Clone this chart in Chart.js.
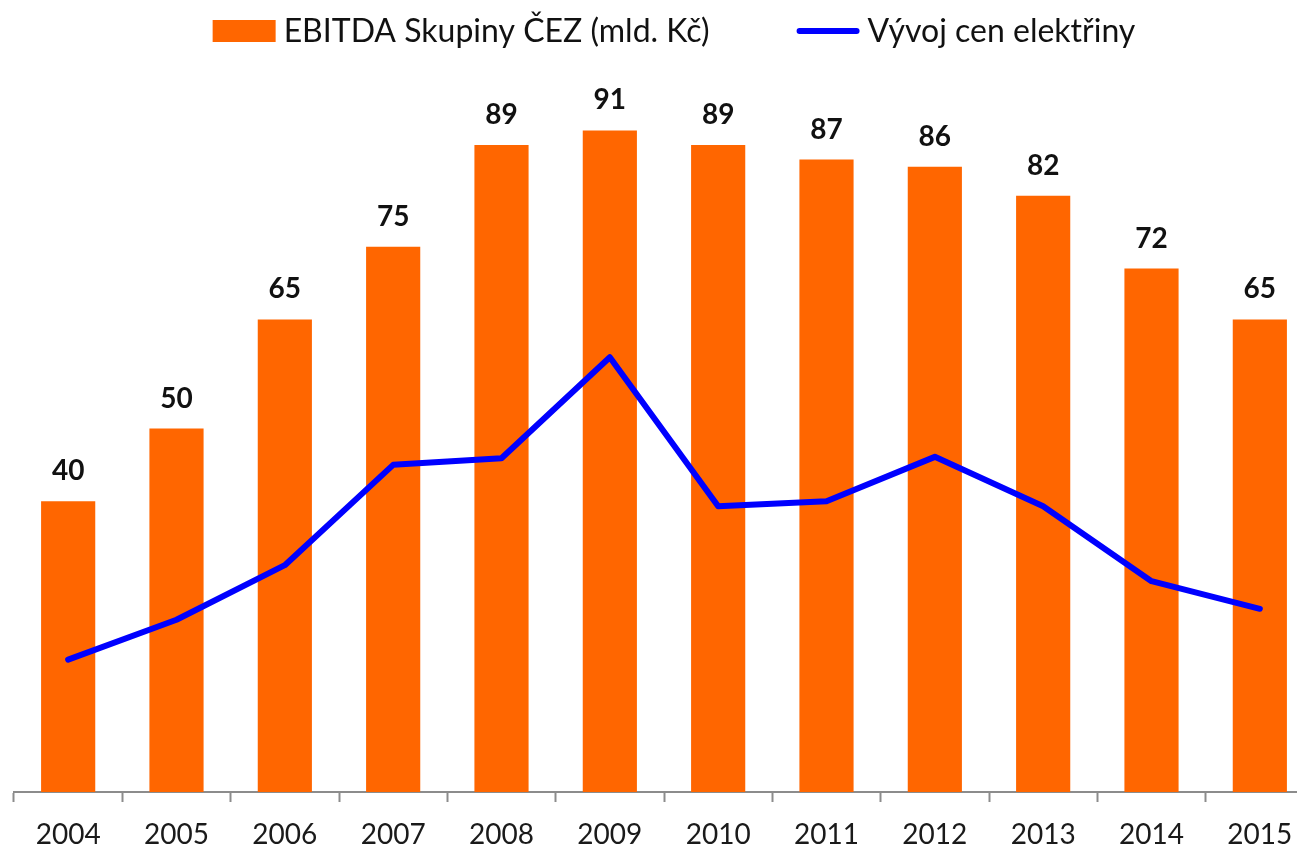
<!DOCTYPE html>
<html>
<head>
<meta charset="utf-8">
<title>EBITDA Skupiny ČEZ</title>
<script src="https://cdn.jsdelivr.net/npm/chart.js@4"></script>
<style>
  html, body { margin: 0; padding: 0; background: #fff; overflow: hidden; }
  #wrap { width: 1320px; height: 868px; position: relative; }
</style>
</head>
<body>
<div id="wrap"><canvas id="cezChart"></canvas></div>
<script>
const roky = ['2004', '2005', '2006', '2007', '2008', '2009', '2010', '2011', '2012', '2013', '2014', '2015']
const ebitda = [40, 50, 65, 75, 89, 91, 89, 87, 86, 82, 72, 65]
const cenyElektriny = [18.2, 23.7, 31.2, 45.0, 45.9, 59.8, 39.3, 40.0, 46.1, 39.3, 29.0, 25.2]

const oranzova = '#FF6600'
const modra = '#0000FF'
const pismo = 'Lato, "Open Sans", sans-serif'

// popisky hodnot nad sloupci
const hodnotyNadSloupci = {
  id: 'hodnotyNadSloupci',
  afterDatasetsDraw(chart) {
    const ctx = chart.ctx
    const meta = chart.getDatasetMeta(1)
    ctx.save()
    ctx.font = 'bold 28px ' + pismo
    ctx.fillStyle = '#111'
    ctx.textAlign = 'center'
    ctx.textBaseline = 'alphabetic'
    meta.data.forEach((bar, i) => {
      ctx.fillText(chart.data.datasets[1].data[i], bar.x, bar.y - 21)
    })
    ctx.restore()
  }
}

// legenda nahoře (vlastní, kvůli rozestupům)
const legendaNahore = {
  id: 'legendaNahore',
  afterDraw(chart) {
    const ctx = chart.ctx
    const sady = chart.data.datasets
    const sloupce = sady[1]
    const cara = sady[0]
    ctx.save()
    ctx.font = '32px ' + pismo
    ctx.textBaseline = 'middle'
    const w1 = ctx.measureText(sloupce.label).width
    const w2 = ctx.measureText(cara.label).width
    const celkem = 63 + 8 + w1 + 87 + 63 + 8 + w2
    let x = chart.width / 2 + 14 - celkem / 2
    const y = 31

    ctx.fillStyle = oranzova
    ctx.fillRect(x, y - 11, 63, 22)
    x += 63 + 8
    ctx.fillStyle = '#111'
    ctx.fillText(sloupce.label, x, y + 1)
    x += w1 + 87

    ctx.strokeStyle = modra
    ctx.lineWidth = 6
    ctx.lineCap = 'round'
    ctx.beginPath()
    ctx.moveTo(x + 3, y)
    ctx.lineTo(x + 60, y)
    ctx.stroke()
    x += 63 + 8
    ctx.fillText(cara.label, x, y + 1)
    ctx.restore()
  }
}

const ctx = document.getElementById('cezChart').getContext('2d')
let cezChart = new Chart(ctx, {
  data: {
    labels: roky,
    datasets: [
      {
        type: 'line',
        label: 'Vývoj cen elektřiny',
        data: cenyElektriny,
        borderColor: modra,
        backgroundColor: modra,
        borderWidth: 6,
        borderJoinStyle: 'round',
        borderCapStyle: 'round',
        pointRadius: 0,
        tension: 0,
        order: 0
      },
      {
        type: 'bar',
        label: 'EBITDA Skupiny ČEZ (mld. Kč)',
        data: ebitda,
        backgroundColor: oranzova,
        borderWidth: 0,
        barPercentage: 0.5,
        categoryPercentage: 1,
        order: 1
      }
    ]
  },
  options: {
    responsive: true,
    maintainAspectRatio: false,
    animation: false,
    layout: {
      padding: { top: 65, left: 14, right: 6, bottom: 0 }
    },
    plugins: {
      legend: { display: false },
      tooltip: { enabled: false }
    },
    scales: {
      x: {
        offset: true,
        grid: {
          display: true,
          drawOnChartArea: false,
          drawTicks: true,
          tickLength: 10,
          tickWidth: 2,
          color: '#8c8c8c',
          offset: true
        },
        border: { display: true, color: '#8c8c8c', width: 2 },
        ticks: {
          color: '#1a1a1a',
          padding: 19,
          maxRotation: 0,
          font: { family: pismo, size: 28, lineHeight: 1 }
        }
      },
      y: {
        display: false,
        min: 0,
        max: 100
      }
    }
  },
  plugins: [hodnotyNadSloupci, legendaNahore]
})
</script>
</body>
</html>
